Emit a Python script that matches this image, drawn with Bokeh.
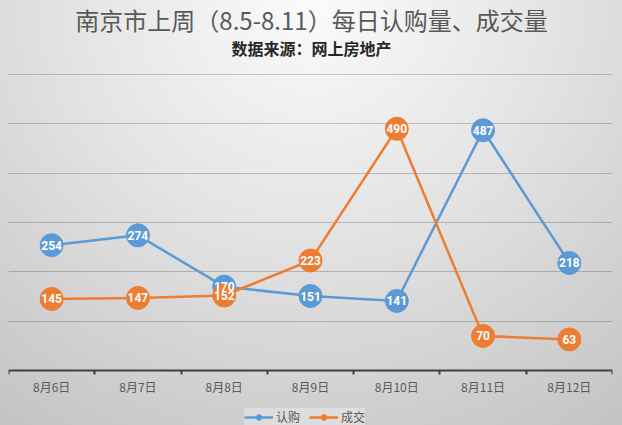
from bokeh.plotting import figure
from bokeh.models import Range1d, FixedTicker, Legend, LegendItem, Label
from bokeh.core.properties import value
from bokeh.embed import file_html
from bokeh.resources import INLINE

dates = ["8月6日", "8月7日", "8月8日", "8月9日", "8月10日", "8月11日", "8月12日"]
subscribe = [254, 274, 170, 151, 141, 487, 218]
deals = [145, 147, 152, 223, 490, 70, 63]
series_names = ["认购", "成交"]
title_text = "南京市上周（8.5-8.11）每日认购量、成交量"
subtitle_text = "数据来源：网上房地产"
grid_values = [100, 200, 300, 400, 500, 600]

BLUE = "#5B9BD5"
ORANGE = "#ED7D31"
CJK = "Noto Sans CJK SC"

W, H = 622, 425
PLOT_TOP, PLOT_BOTTOM = 74, 370          # pixel rows of value 600 and value 0
YMAX = 600
ppu = (PLOT_BOTTOM - PLOT_TOP) / YMAX
y_hi = YMAX + PLOT_TOP / ppu
y_lo = -(H - PLOT_BOTTOM) / ppu

xs = [i + 0.5 for i in range(len(dates))]

p = figure(width=W, height=H, x_range=Range1d(0, len(dates)), y_range=Range1d(y_lo, y_hi),
           output_backend="svg", toolbar_location=None,
           min_border_left=8, min_border_right=10, min_border_top=0, min_border_bottom=0)
p.background_fill_alpha = 0
p.border_fill_alpha = 0
p.outline_line_color = None
p.styles = {"background": "radial-gradient(ellipse 85% 120% at 50% 0%, #fbfbfb 0%, #e4e4e4 45%, #c4c4c4 100%)"}

p.yaxis.visible = False
p.xgrid.visible = False
p.ygrid.ticker = FixedTicker(ticks=grid_values)
p.ygrid.grid_line_color = "#000000"
p.ygrid.grid_line_alpha = 0.2
p.ygrid.grid_line_width = 1

p.xaxis.fixed_location = 0
p.xaxis.ticker = FixedTicker(ticks=xs, minor_ticks=list(range(len(dates) + 1)))
p.xaxis.major_label_overrides = {x: d for x, d in zip(xs, dates)}
p.xaxis.axis_line_color = "#404040"
p.xaxis.axis_line_width = 2
p.xaxis.major_tick_line_color = None
p.xaxis.minor_tick_line_color = "#404040"
p.xaxis.minor_tick_line_width = 2
p.xaxis.minor_tick_in = 0
p.xaxis.minor_tick_out = 4
p.xaxis.major_label_text_font = CJK
p.xaxis.major_label_text_font_size = "12px"
p.xaxis.major_label_text_color = "#595959"
p.xaxis.major_label_standoff = 1

fw = W - 8 - 10
p.add_layout(Label(x=fw / 2 + 1, y=H - 19, x_units="screen", y_units="screen", text=title_text,
                   text_align="center", text_baseline="middle", text_font=CJK,
                   text_font_size="24px", text_color="#595959"))
p.add_layout(Label(x=fw / 2 + 1, y=H - 47, x_units="screen", y_units="screen", text=subtitle_text,
                   text_align="center", text_baseline="middle", text_font=CJK,
                   text_font_size="16px", text_font_style="bold", text_color="#262626"))

items = []
for name, vals, col in zip(series_names, [subscribe, deals], [BLUE, ORANGE]):
    ln = p.line(xs, vals, line_color=col, line_width=2.5)
    small = p.scatter(xs, vals, size=7, fill_color=col, line_color=col)
    p.scatter(xs, vals, size=23, fill_color=col, line_color=col)
    items.append(LegendItem(label=name, renderers=[ln, small]))

for vals in [subscribe, deals]:
    p.text(xs, vals, text=[str(v) for v in vals], text_align="center", text_baseline="middle",
           text_color="white", text_font_style="bold", text_font_size="12px",
           text_font=value("Roboto"))

legend = Legend(items=items, orientation="horizontal", location=(236, 0),
                background_fill_color="#ffffff", background_fill_alpha=0.3,
                border_line_color=None, label_text_font=CJK, label_text_font_size="12px",
                label_text_color="#595959", glyph_width=29, glyph_height=14,
                spacing=9, padding=5, margin=0, label_standoff=3)
p.add_layout(legend)

open("out.html", "w").write(file_html(p, INLINE))
